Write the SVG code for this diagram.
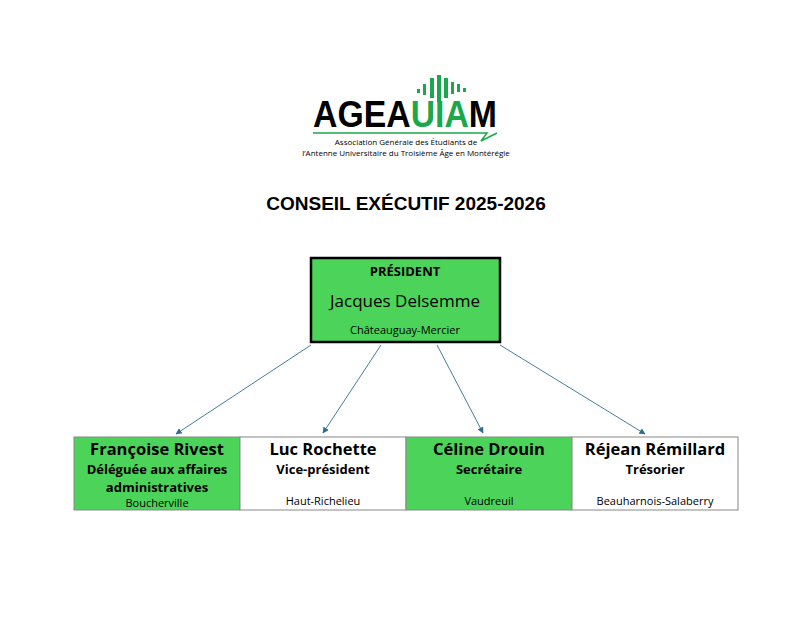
<svg xmlns="http://www.w3.org/2000/svg" width="812" height="627" viewBox="0 0 812 627">
<style>
text{font-family:"Open Sans","Liberation Sans",sans-serif;fill:#000;text-anchor:middle}
.n{font-size:16.5px;font-weight:bold}
.r{font-size:13px;font-weight:bold}
.l{font-size:11px}
.g{fill:#4cd45a}
.box{stroke:#888;stroke-width:1}
.c{stroke:#2e6f8e;stroke-width:0.9;fill:none;marker-end:url(#a)}
</style>
<defs><marker id="a" viewBox="0 0 10 10" refX="9" refY="5" markerWidth="7" markerHeight="7" orient="auto"><path d="M0,0L10,5L0,10z" fill="#2e6f8e"/></marker></defs>
<rect width="812" height="627" fill="#fff"/>
<g id="logo">
<text x="313" y="127" textLength="184" lengthAdjust="spacingAndGlyphs" style="text-anchor:start;font-size:36px;font-weight:bold;font-family:'Liberation Sans',sans-serif">AGEA<tspan fill="#1aa84a">UIA</tspan>M</text>
<g fill="#1aa84a"><rect x="417" y="89" width="3" height="4"/><rect x="423" y="84" width="3" height="11"/><rect x="430" y="78" width="4" height="20"/><rect x="437" y="75" width="4" height="27"/><rect x="444" y="78" width="4" height="20"/><rect x="451" y="82" width="3" height="12"/><rect x="457" y="84" width="3" height="8"/><rect x="463" y="88" width="3" height="4"/></g>
<path d="M313,133H487L481,141L497,133" stroke="#1aa84a" stroke-width="1.5" fill="none"/>
<text x="406" y="145" style="font-size:8px">Association Générale des Étudiants de</text>
<text x="406" y="156" style="font-size:8px">l’Antenne Universitaire du Troisième Âge en Montérégie</text>
</g>
<text x="406" y="210" style="font-size:19px;font-weight:bold;font-family:'Liberation Sans',sans-serif">CONSEIL EXÉCUTIF 2025-2026</text>
<g id="president">
<rect x="311" y="258" width="189" height="84" class="g" stroke="#000" stroke-width="2.5"/>
<text x="405" y="276" class="r">PRÉSIDENT</text>
<text x="405" y="307" style="font-size:17px">Jacques Delsemme</text>
<text x="405" y="334" class="l">Châteauguay-Mercier</text>
</g>
<g id="rivest"><rect x="74" y="437" width="166" height="73" class="g box"/>
<text x="157" y="455" class="n">Françoise Rivest</text><text x="157" y="474" class="r">Déléguée aux affaires</text><text x="157" y="492" class="r">administratives</text><text x="157" y="507" class="l">Boucherville</text></g>
<g id="rochette"><rect x="240" y="437" width="166" height="73" fill="#fff" class="box"/>
<text x="323" y="455" class="n">Luc Rochette</text><text x="323" y="474" class="r">Vice-président</text><text x="323" y="505" class="l">Haut-Richelieu</text></g>
<g id="drouin"><rect x="406" y="437" width="166" height="73" class="g box"/>
<text x="489" y="455" class="n">Céline Drouin</text><text x="489" y="474" class="r">Secrétaire</text><text x="489" y="505" class="l">Vaudreuil</text></g>
<g id="remillard"><rect x="572" y="437" width="166" height="73" fill="#fff" class="box"/>
<text x="655" y="455" class="n">Réjean Rémillard</text><text x="655" y="474" class="r">Trésorier</text><text x="655" y="505" class="l">Beauharnois-Salaberry</text></g>
<g id="connectors">
<path class="c" d="M311,345L176,434"/>
<path class="c" d="M381,345L323,433"/>
<path class="c" d="M437,345L483,433"/>
<path class="c" d="M500,345L645,434"/>
</g>
</svg>
